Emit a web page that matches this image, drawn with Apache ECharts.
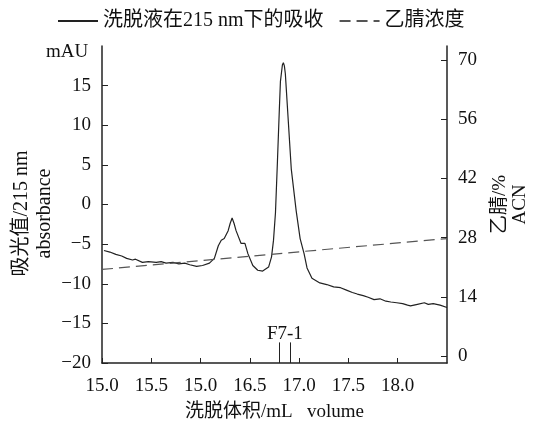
<!DOCTYPE html>
<html>
<head>
<meta charset="utf-8">
<script src="https://cdn.jsdelivr.net/npm/echarts@6/dist/echarts.min.js"></script>
<style>html,body{margin:0;padding:0;background:#fff;}#c{width:534px;height:421px;}</style>
</head>
<body>
<div id="c"></div>
<script>
// Elution volume (mL) and absorbance at 215 nm (mAU)
var volume = [15.02,15.08,15.14,15.20,15.25,15.31,15.34,15.41,15.47,15.55,15.60,15.65,15.72,15.78,15.84,15.89,15.96,16.02,16.09,16.14,16.18,16.21,16.24,16.28,16.30,16.32,16.34,16.36,16.41,16.45,16.48,16.53,16.58,16.63,16.69,16.72,16.74,16.76,16.78,16.80,16.81,16.83,16.84,16.85,16.86,16.89,16.92,16.97,17.01,17.05,17.08,17.13,17.21,17.28,17.35,17.42,17.48,17.54,17.59,17.65,17.70,17.76,17.82,17.88,17.93,17.99,18.05,18.10,18.13,18.20,18.27,18.31,18.36,18.43,18.50];
var absorbance = [-5.8,-6.0,-6.3,-6.5,-6.8,-7.0,-6.9,-7.3,-7.2,-7.3,-7.2,-7.4,-7.3,-7.5,-7.4,-7.6,-7.8,-7.7,-7.4,-6.8,-5.2,-4.5,-4.3,-3.3,-2.4,-1.7,-2.4,-3.3,-4.9,-4.9,-6.2,-7.7,-8.3,-8.4,-7.9,-6.6,-4.5,-1.0,5.5,12.3,15.5,17.6,17.9,17.5,16.5,10.5,4.5,-0.8,-4.3,-6.2,-8.0,-9.3,-9.9,-10.1,-10.4,-10.5,-10.8,-11.1,-11.3,-11.5,-11.7,-12.0,-11.9,-12.2,-12.3,-12.4,-12.5,-12.7,-12.8,-12.6,-12.4,-12.6,-12.5,-12.7,-13.0];
// Acetonitrile concentration (%)
var acnVolume = [15.0, 18.5];
var acnPercent = [20.5, 27.8];
// Tick values and labels
var xTickValues = [15.0,15.5,16.0,16.5,17.0,17.5,18.0];
var xTickLabels = ['15.0','15.5','15.0','16.5','17.0','17.5','18.0'];
var leftTickValues = [-20,-15,-10,-5,0,5,10,15];
var leftTickLabels = ['\u221220','\u221215','\u221210','\u22125','0','5','10','15'];
var rightTickValues = [0,14,28,42,56,70];
var rightTickLabels = ['0','14','28','42','56','70'];
// Fraction marker
var markerVolumes = [16.80, 16.91];
var markerBottom = -20;
var markerTop = -17.4;
var markerLabel = 'F7-1';

var FONT = "'Liberation Serif', 'Noto Sans CJK SC', serif";
var absPairs = volume.map(function(v,i){return [v, absorbance[i]];});
var acnPairs = acnVolume.map(function(v,i){return [v, acnPercent[i]];});
function lookup(vals, labels){
  return function(value){
    for (var i=0;i<vals.length;i++){ if (Math.abs(vals[i]-value)<1e-6) return labels[i]; }
    return '';
  };
}
var axisLineStyle = {color:'#222', width:1.5};
var chart = echarts.init(document.getElementById('c'), null, {renderer:'canvas'});
chart.setOption({
  animation:false,
  backgroundColor:'#fff',
  textStyle:{fontFamily:FONT},
  title:{text:'mAU', left:41, top:38, textStyle:{fontFamily:FONT, fontSize:19, fontWeight:'normal', color:'#111'}},
  legend:{
    left:57, top:11, padding:0, itemWidth:40, itemHeight:12, itemGap:15,
    itemStyle:{opacity:0},
    textStyle:{fontFamily:FONT, fontSize:20, color:'#111'},
    data:['洗脱液在215 nm下的吸收','乙腈浓度']
  },
  grid:{left:102, right:87, top:46, bottom:58, containLabel:false, outerBoundsMode:'none'},
  xAxis:{
    type:'value', min:15.0, max:18.5,
    name:'洗脱体积/mL   volume', nameLocation:'middle', nameGap:40,
    nameTextStyle:{fontFamily:FONT, fontSize:19, color:'#111'},
    axisLine:{onZero:false, lineStyle:axisLineStyle},
    axisTick:{inside:true, length:5, customValues:xTickValues, lineStyle:{color:'#222'}},
    axisLabel:{customValues:xTickValues, formatter:lookup(xTickValues,xTickLabels), margin:14, fontFamily:FONT, fontSize:19, color:'#111'},
    splitLine:{show:false}
  },
  yAxis:[{
    type:'value', min:-20, max:20, position:'left',
    name:'吸光值/215 nm\nabsorbance', nameLocation:'middle', nameRotate:90, nameGap:46, nameMoveOverlap:false,
    nameTextStyle:{fontFamily:FONT, fontSize:20, color:'#111', lineHeight:23, padding:[0,18,0,0]},
    axisLine:{show:true, onZero:false, lineStyle:axisLineStyle},
    axisTick:{show:true, inside:true, length:6, customValues:leftTickValues, lineStyle:{color:'#222'}},
    axisLabel:{customValues:leftTickValues, formatter:lookup(leftTickValues,leftTickLabels), margin:11, fontFamily:FONT, fontSize:19, color:'#111'},
    splitLine:{show:false}
  },{
    type:'value', min:-1.6, max:73.3, position:'right',
    name:'乙腈/%\nACN', nameLocation:'middle', nameRotate:90, nameGap:43, nameMoveOverlap:false,
    nameTextStyle:{fontFamily:FONT, fontSize:19, color:'#111', lineHeight:20},
    axisLine:{show:true, onZero:false, lineStyle:axisLineStyle},
    axisTick:{show:true, inside:true, length:6, customValues:rightTickValues, lineStyle:{color:'#222'}},
    axisLabel:{customValues:rightTickValues, formatter:lookup(rightTickValues,rightTickLabels), margin:11, fontFamily:FONT, fontSize:19, color:'#111'},
    splitLine:{show:false}
  }],
  series:[{
    name:'洗脱液在215 nm下的吸收', type:'line', yAxisIndex:0, data:absPairs,
    symbol:'none', lineStyle:{color:'#222', width:1.2}, itemStyle:{color:'#222'},
    markLine:{
      silent:true, symbol:'none', label:{show:false},
      lineStyle:{color:'#222', width:1, type:'solid'},
      data: markerVolumes.map(function(v){return [{coord:[v, markerBottom]},{coord:[v, markerTop]}];})
    },
    markPoint:{
      silent:true, symbol:'circle', symbolSize:0,
      label:{show:true, position:'inside', formatter:markerLabel, fontFamily:FONT, fontSize:19, color:'#111'},
      data:[{coord:[(markerVolumes[0]+markerVolumes[1])/2, -16.4]}]
    }
  },{
    name:'乙腈浓度', type:'line', yAxisIndex:1, data:acnPairs,
    symbol:'none', lineStyle:{color:'#555', width:1.2, type:[11,6]}, itemStyle:{color:'#555'}
  }]
});
</script>
</body>
</html>
